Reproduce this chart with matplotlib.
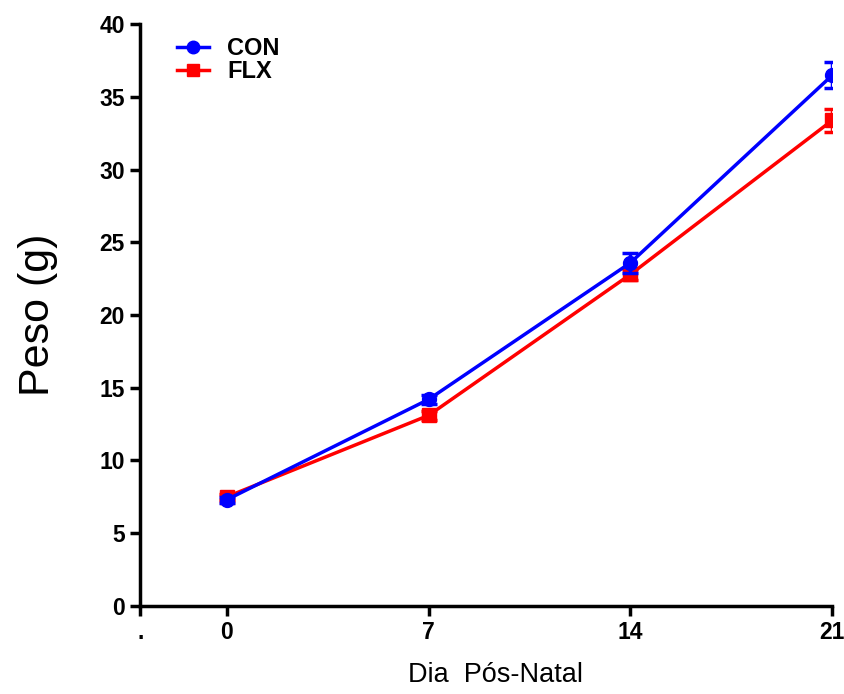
import numpy as np
import matplotlib
matplotlib.use("Agg")
from matplotlib import pyplot as plt

plt.rcParams['font.family'] = ['Liberation Sans', 'DejaVu Sans']

dias = [0, 7, 14, 21]
con = [7.3, 14.2, 23.6, 36.5]
con_err = [0.2, 0.3, 0.7, 0.9]
flx = [7.5, 13.1, 22.8, 33.4]
flx_err = [0.2, 0.3, 0.4, 0.8]
xticks = [-3, 0, 7, 14, 21]
xticklabels = ['.', '0', '7', '14', '21']

fig = plt.figure(figsize=(8.45, 6.94), dpi=100)
ax = fig.add_axes([0.166, 0.127, 0.819, 0.838])

# error bars drawn apart so that the legend shows only line + marker
ax.errorbar(dias, con, yerr=con_err, fmt='none', ecolor='#0000ff',
            capsize=6, capthick=2.5, elinewidth=2.5, zorder=4)
ax.errorbar(dias, flx, yerr=flx_err, fmt='none', ecolor='#ff0000',
            capsize=6, capthick=2.5, elinewidth=2.5, zorder=3)
ax.plot(dias, flx, color='#ff0000', marker='s', markersize=10, linewidth=2.5,
        label='FLX', zorder=3)
ax.plot(dias, con, color='#0000ff', marker='o', markersize=10, linewidth=2.5,
        label='CON', zorder=4)

ax.set_xlim(-3, 21)
ax.set_ylim(0, 40)
ax.set_xticks(xticks)
ax.set_xticklabels(xticklabels)
ax.set_yticks(np.arange(0, 41, 5))

for s in ['top', 'right']:
    ax.spines[s].set_visible(False)
for s in ['left', 'bottom']:
    ax.spines[s].set_linewidth(2.5)
ax.tick_params(width=2.5, length=7, labelsize=16.5, pad=4)
for lab in ax.get_xticklabels() + ax.get_yticklabels():
    lab.set_fontweight('bold')

ax.set_ylabel('Peso (g)', fontsize=31, labelpad=30)
ax.set_xlabel('Dia  Pós-Natal', fontsize=19.5, labelpad=13)
ax.xaxis.label.set_x(0.514)

h, l = ax.get_legend_handles_labels()
leg = ax.legend(h[::-1], l[::-1], loc='upper left', bbox_to_anchor=(0.023, 1.014),
                frameon=False, prop={'weight': 'bold', 'size': 17}, handlelength=1.35,
                labelspacing=0.0, handletextpad=0.75, markerscale=0.9)

fig.savefig('out.png', dpi=100)
